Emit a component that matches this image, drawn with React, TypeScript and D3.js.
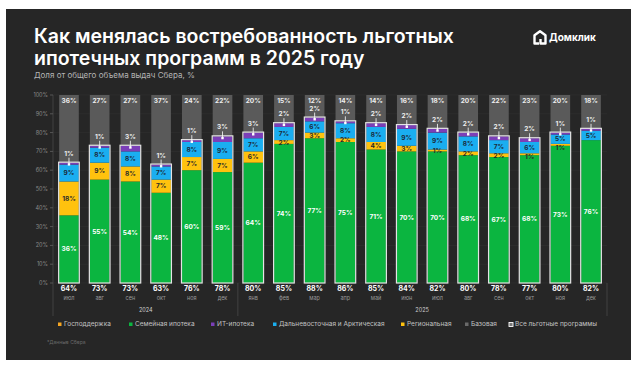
import { scaleBand, scaleLinear, stack } from 'd3'

const months = ['июл', 'авг', 'сен', 'окт', 'ноя', 'дек', 'янв', 'фев', 'мар', 'апр', 'май', 'июн', 'июл', 'авг', 'сен', 'окт', 'ноя', 'дек']
const years = ['2024', '2025']
const yearOf = [0, 0, 0, 0, 0, 0, 1, 1, 1, 1, 1, 1, 1, 1, 1, 1, 1, 1]

// shares of Sber mortgage issuance, %
const family = [36, 55, 54, 48, 60, 59, 64, 74, 77, 75, 71, 70, 70, 68, 67, 68, 73, 76]
const regional = [18, 9, 8, 7, 7, 7, 6, 2, 3, 2, 4, 3, 1, 2, 2, 1, 1, 0]
const farEast = [9, 8, 8, 7, 8, 9, 7, 7, 6, 8, 8, 9, 9, 8, 7, 6, 5, 5]
const it = [1, 1, 3, 1, 1, 3, 3, 2, 2, 1, 2, 2, 2, 2, 2, 2, 1, 1]
const base = [36, 27, 27, 37, 24, 22, 20, 15, 12, 14, 14, 16, 18, 20, 22, 23, 20, 18]
const total = [64, 73, 73, 63, 76, 78, 80, 85, 88, 86, 85, 84, 82, 80, 78, 77, 80, 82]

const yTicks = [0, 10, 20, 30, 40, 50, 60, 70, 80, 90, 100]

const legend = [
  { label: 'Господдержка', color: '#f5a623' },
  { label: 'Семейная ипотека', color: '#0bb540' },
  { label: 'ИТ-ипотека', color: '#7b3fb8' },
  { label: 'Дальневосточная и Арктическая', color: '#1aaef0' },
  { label: 'Региональная', color: '#ffc20e' },
  { label: 'Базовая', color: '#6a6a6a' },
  { label: 'Все льготные программы', color: 'outline' },
]
const legendX = [58, 129, 211, 273, 401, 465, 509]

const keys = ['family', 'regional', 'farEast', 'it'] as const
const colors: Record<string, string> = { family: '#0bb540', regional: '#ffc20e', farEast: '#1aaef0', it: '#7b3fb8' }
const textColor: Record<string, string> = { family: '#ffffff', regional: '#2a2a2a', farEast: '#1c2a38', it: '#ffffff' }

const font = 'Inter, "Open Sans", sans-serif'

export default function App() {
  const W = 639
  const H = 368
  const x = scaleBand<number>().domain(months.map((_, i) => i)).range([53, 607]).paddingInner(0.36).paddingOuter(0.2)
  const y = scaleLinear().domain([0, 100]).range([283, 95])
  const bw = x.bandwidth()

  const rows = months.map((_, i) => ({ family: family[i], regional: regional[i], farEast: farEast[i], it: it[i] }))
  const series = stack<any>().keys(keys as any)(rows)
  const byKey: Record<string, any> = {}
  series.forEach((s) => (byKey[s.key] = s))

  // label centre, pushing the small regional label down when it would collide with the far-east one
  const labelY = (key: string, i: number) => {
    const d = byKey[key][i]
    let cy = (y(d[0]) + y(d[1])) / 2
    if (key === 'regional') {
      const f = byKey.farEast[i]
      const fy = (y(f[0]) + y(f[1])) / 2
      if (cy - fy < 9) cy = fy + 9
    }
    return cy
  }

  const sepX = [53, (x(5)! + bw + x(6)!) / 2, 607]

  return (
    <svg width={W} height={H} style={{ display: 'block', position: 'absolute', left: 0, top: 0 }} fontFamily={font}>
      <rect x={0} y={0} width={W} height={H} fill="#ffffff" />
      <rect x={6} y={9} width={625} height={351} fill="#262626" />

      {/* title */}
      <text x={34} y={43} fill="#ffffff" fontSize={19.5} fontWeight={600}>Как менялась востребованность льготных</text>
      <text x={34} y={65} fill="#ffffff" fontSize={19.5} fontWeight={600}>ипотечных программ в 2025 году</text>
      <text x={34} y={78} fill="#b5b5b5" fontSize={8}>Доля от общего объема выдач Сбера, %</text>

      {/* logo */}
      <g transform="translate(533,30)">
        <path d="M6 13.5 L1.5 13.5 L1.5 5.2 L7 1.2 L12.5 5.2 L12.5 13.5 L7.5 13.5 L7.5 9" fill="none" stroke="#ffffff" strokeWidth={2.4} strokeLinejoin="round" />
        <text x={16} y={11} fill="#ffffff" fontSize={10} fontWeight={700}>Домклик</text>
      </g>

      {/* grid and y axis */}
      {yTicks.map((t) => (
        <g key={t}>
          <line x1={53} x2={607} y1={y(t)} y2={y(t)} stroke="#2f2f2f" strokeWidth={0.8} />
          <line x1={50} x2={53} y1={y(t)} y2={y(t)} stroke="#777" strokeWidth={0.6} />
          <text x={48} y={y(t) + 2} fill="#8a8a8a" fontSize={5.5} textAnchor="end">{t}%</text>
        </g>
      ))}
      <line x1={53} x2={53} y1={95} y2={283} stroke="#555" strokeWidth={0.6} />

      {/* base (grey) bars */}
      {months.map((_, i) => (
        <g key={'b' + i}>
          <rect x={x(i)} y={y(100)} width={bw} height={y(total[i]) - y(100)} fill="#5a5a5a" />
          <text x={x(i)! + bw / 2} y={y(100) + 8} fill="#eeeeee" fontSize={6.5} fontWeight={700} textAnchor="middle">{base[i]}%</text>
        </g>
      ))}

      {/* stacked programs */}
      {series.map((s) => (
        <g key={s.key}>
          {s.map((d, i) => (
            <rect key={i} x={x(i)} y={y(d[1])} width={bw} height={y(d[0]) - y(d[1])} fill={colors[s.key]} />
          ))}
        </g>
      ))}

      {/* labels inside segments */}
      {series.filter((s) => s.key !== 'it').map((s) => (
        <g key={'l' + s.key}>
          {s.map((d, i) => {
            const v = d[1] - d[0]
            if (v <= 0) return null
            return (
              <text key={i} x={x(i)! + bw / 2} y={labelY(s.key, i) + 2.3} fill={textColor[s.key]} fontSize={6.5} fontWeight={700} textAnchor="middle">{v}%</text>
            )
          })}
        </g>
      ))}

      {/* outline of all preferential programs + IT labels */}
      {months.map((_, i) => {
        const cx = x(i)! + bw / 2
        const top = y(total[i])
        return (
          <g key={'o' + i}>
            <rect x={x(i)! - 0.5} y={top - 0.5} width={bw + 1} height={y(0) - top + 0.5} fill="none" stroke="#e4e4e4" strokeWidth={1.2} />
            <text x={cx} y={top - 7} fill="#eeeeee" fontSize={6.5} fontWeight={700} textAnchor="middle">{it[i]}%</text>
            <line x1={cx} x2={cx} y1={top - 5} y2={top + 1.5} stroke="#ffffff" strokeWidth={0.8} />
            <rect x={cx - 1.2} y={top + 0.5} width={2.4} height={2.4} fill="#ffffff" />
          </g>
        )
      })}

      {/* totals and months */}
      {months.map((m, i) => (
        <g key={'t' + i}>
          <text x={x(i)! + bw / 2} y={291} fill="#ffffff" fontSize={7} fontWeight={700} textAnchor="middle">{total[i]}%</text>
          <text x={x(i)! + bw / 2} y={300} fill="#9a9a9a" fontSize={5.5} textAnchor="middle">{m}</text>
        </g>
      ))}

      {/* year groups */}
      {sepX.map((sx, i) => (
        <line key={'s' + i} x1={sx} x2={sx} y1={283} y2={316} stroke="#555" strokeWidth={0.6} />
      ))}
      {years.map((yr, k) => {
        const idx = months.map((_, i) => i).filter((i) => yearOf[i] === k)
        const cx = (x(idx[0])! + x(idx[idx.length - 1])! + bw) / 2
        return (
          <text key={yr} x={cx} y={312} fill="#cfcfcf" fontSize={5.5} textAnchor="middle">{yr}</text>
        )
      })}

      {/* legend */}
      {legend.map((l, i) => (
        <g key={l.label} transform={`translate(${legendX[i]},326)`}>
          {l.color === 'outline' ? (
            <rect x={0} y={-3.5} width={4} height={4} fill="#777" stroke="#ffffff" strokeWidth={0.9} />
          ) : (
            <rect x={0} y={-3.5} width={3.5} height={3.5} fill={l.color} />
          )}
          <text x={6} y={0} fill="#c2c2c2" fontSize={6.5}>{l.label}</text>
        </g>
      ))}

      <text x={47} y={344} fill="#6a6a6a" fontSize={5}>*Данные Сбера</text>
    </svg>
  )
}
